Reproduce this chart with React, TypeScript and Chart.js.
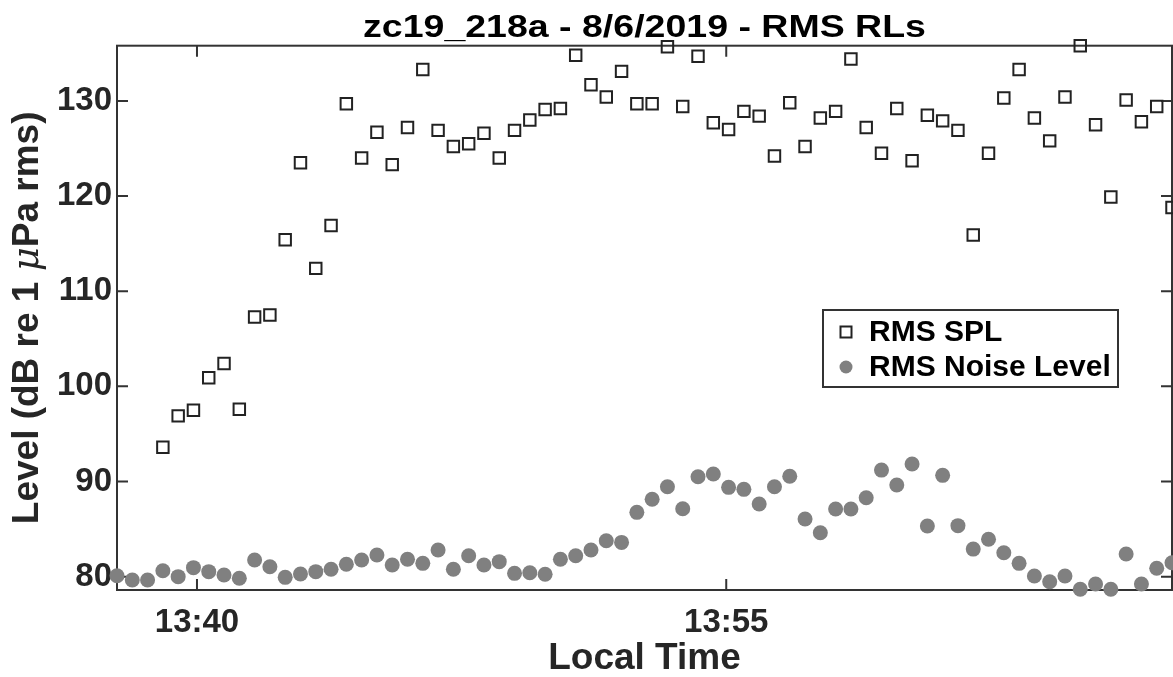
import React, { useEffect, useRef } from "react";
import { Chart, registerables } from "chart.js";

Chart.register(...registerables);

// Sample times (local clock, hh:mm:ss)
const times = [
  "13:37:44", "13:38:10", "13:38:36", "13:39:02", "13:39:28", "13:39:54", "13:40:20", "13:40:46",
  "13:41:12", "13:41:38", "13:42:04", "13:42:30", "13:42:56", "13:43:22", "13:43:48", "13:44:14",
  "13:44:40", "13:45:06", "13:45:32", "13:45:58", "13:46:24", "13:46:50", "13:47:16", "13:47:42",
  "13:48:08", "13:48:34", "13:49:00", "13:49:26", "13:49:52", "13:50:18", "13:50:44", "13:51:10",
  "13:51:36", "13:52:02", "13:52:28", "13:52:54", "13:53:20", "13:53:46", "13:54:12", "13:54:38",
  "13:55:04", "13:55:30", "13:55:56", "13:56:22", "13:56:48", "13:57:14", "13:57:40", "13:58:06",
  "13:58:32", "13:58:58", "13:59:24", "13:59:50", "14:00:16", "14:00:42", "14:01:08", "14:01:34",
  "14:02:00", "14:02:26", "14:02:52", "14:03:18", "14:03:44", "14:04:10", "14:04:36", "14:05:02",
  "14:05:28", "14:05:54", "14:06:20", "14:06:46", "14:07:12", "14:07:38",
];

// RMS sound pressure level (dB re 1 µPa rms); null where no detection
const splLevels: (number | null)[] = [
  null, null, null, 93.6, 96.9, 97.5, 100.9, 102.4,
  97.6, 107.3, 107.5, 115.4, 123.5, 112.4, 116.9, 129.7,
  124.0, 126.7, 123.3, 127.2, 133.3, 126.9, 125.2, 125.5,
  126.6, 124.0, 126.9, 128.0, 129.1, 129.2, 134.8, 131.7,
  130.4, 133.1, 129.7, 129.7, 135.7, 129.4, 134.7, 127.7,
  127.0, 128.9, 128.4, 124.2, 129.8, 125.2, 128.2, 128.9,
  134.4, 127.2, 124.5, 129.2, 123.7, 128.5, 127.9, 126.9,
  115.9, 124.5, 130.3, 133.3, 128.2, 125.8, 130.4, 135.8,
  127.5, 119.9, 130.1, 127.8, 129.4, 118.8,
];

// RMS noise level (dB re 1 µPa rms)
const noiseLevels = [
  80.1, 79.65, 79.65, 80.63, 80.0, 80.95, 80.53, 80.18,
  79.83, 81.75, 81.05, 79.93, 80.28, 80.53, 80.78, 81.3,
  81.75, 82.28, 81.23, 81.83, 81.4, 82.8, 80.78, 82.2,
  81.23, 81.58, 80.35, 80.42, 80.25, 81.83, 82.2, 82.8,
  83.78, 83.6, 86.76, 88.13, 89.45, 87.14, 90.5, 90.79,
  89.39, 89.18, 87.64, 89.45, 90.55, 86.06, 84.62, 87.11,
  87.11, 88.3, 91.2, 89.63, 91.84, 85.33, 90.65, 85.36,
  82.9, 83.93, 82.52, 81.4, 80.07, 79.47, 80.07, 78.68,
  79.23, 78.68, 82.38, 79.23, 80.88, 81.47,
];

const yTickValues = [80, 90, 100, 110, 120, 130];
const xTickLabels = ["13:40", "13:55"];
const yRange = [78.6, 135.8];

const TITLE = "zc19_218a - 8/6/2019 - RMS RLs";
const X_LABEL = "Local Time";
const Y_LABEL_PARTS = ["Level (dB re 1 ", "\u03bc", "Pa rms)"];
const SERIES_NAMES = ["RMS SPL", "RMS Noise Level"];

const FONT = "'Liberation Sans', Arial, Helvetica, sans-serif";
const AXIS_COLOR = "#333333";
const TEXT_COLOR = "#262626";
const SPL_COLOR = "#222222";
const NOISE_COLOR = "#808080";

const toSeconds = (t: string) => {
  const [h, m, s = "0"] = t.split(":");
  return Number(h) * 3600 + Number(m) * 60 + Number(s);
};
const formatClock = (sec: number) => {
  const h = Math.floor(sec / 3600);
  const m = Math.floor((sec % 3600) / 60);
  return `${h}:${String(m).padStart(2, "0")}`;
};

const TICK_LEN = 11;

// Box around the axes with inward ticks on all four sides
const framePlugin = {
  id: "frame",
  beforeDatasetsDraw(chart: any) {
    const { ctx, chartArea: a, scales } = chart;
    ctx.save();
    ctx.strokeStyle = AXIS_COLOR;
    ctx.lineWidth = 2;
    ctx.strokeRect(a.left, a.top, a.right - a.left, a.bottom - a.top);
    ctx.beginPath();
    for (const t of scales.y.ticks) {
      const py = scales.y.getPixelForValue(t.value);
      ctx.moveTo(a.left, py);
      ctx.lineTo(a.left + TICK_LEN, py);
      ctx.moveTo(a.right, py);
      ctx.lineTo(a.right - TICK_LEN, py);
    }
    for (const t of scales.x.ticks) {
      const px = scales.x.getPixelForValue(t.value);
      ctx.moveTo(px, a.bottom);
      ctx.lineTo(px, a.bottom - TICK_LEN);
      ctx.moveTo(px, a.top);
      ctx.lineTo(px, a.top + TICK_LEN);
    }
    ctx.stroke();
    ctx.restore();
  },
};

// Title, y-axis label (with italic mu) and the in-plot legend
const textPlugin = {
  id: "annotations",
  afterDraw(chart: any) {
    const { ctx, chartArea: a } = chart;
    ctx.save();

    // title (slightly condensed vertically)
    ctx.fillStyle = "#000000";
    ctx.font = `bold 37.5px ${FONT}`;
    ctx.textAlign = "center";
    ctx.textBaseline = "alphabetic";
    ctx.translate((a.left + a.right) / 2, 36.5);
    ctx.scale(1, 0.85);
    ctx.fillText(TITLE, 0, 0);
    ctx.restore();

    // y-axis label
    ctx.save();
    const fonts = [`bold 37px ${FONT}`, `italic 37px 'DejaVu Serif', serif`, `bold 37px ${FONT}`];
    const widths = Y_LABEL_PARTS.map((p, i) => {
      ctx.font = fonts[i];
      return ctx.measureText(p).width;
    });
    const total = widths.reduce((s, w) => s + w, 0);
    ctx.translate(28, (a.top + a.bottom) / 2);
    ctx.rotate(-Math.PI / 2);
    ctx.textAlign = "left";
    ctx.textBaseline = "middle";
    ctx.fillStyle = TEXT_COLOR;
    let x = -total / 2;
    Y_LABEL_PARTS.forEach((p, i) => {
      ctx.font = fonts[i];
      ctx.fillText(p, x, 0);
      x += widths[i];
    });
    ctx.restore();

    // legend
    ctx.save();
    const bx = 823, by = 310, bw = 295, bh = 77;
    ctx.fillStyle = "#ffffff";
    ctx.fillRect(bx, by, bw, bh);
    ctx.strokeStyle = AXIS_COLOR;
    ctx.lineWidth = 2;
    ctx.strokeRect(bx, by, bw, bh);
    const rows = [332, 367];
    const mx = 846;
    ctx.strokeStyle = SPL_COLOR;
    ctx.lineWidth = 2;
    ctx.strokeRect(mx - 5.5, rows[0] - 5.5, 11, 11);
    ctx.fillStyle = NOISE_COLOR;
    ctx.beginPath();
    ctx.arc(mx, rows[1], 6.5, 0, Math.PI * 2);
    ctx.fill();
    ctx.fillStyle = "#000000";
    ctx.font = `bold 30px ${FONT}`;
    ctx.textAlign = "left";
    ctx.textBaseline = "middle";
    SERIES_NAMES.forEach((name, i) => ctx.fillText(name, 869, rows[i] + 1));
    ctx.restore();
  },
};

export default function App() {
  const canvasRef = useRef<HTMLCanvasElement | null>(null);

  useEffect(() => {
    if (!canvasRef.current) return;
    const xs = times.map(toSeconds);
    const splData = xs
      .map((x, i) => ({ x, y: splLevels[i] }))
      .filter((p) => p.y !== null) as { x: number; y: number }[];
    const noiseData = xs.map((x, i) => ({ x, y: noiseLevels[i] }));
    const tickFont = { family: FONT, size: 33, weight: "bold" as const, lineHeight: 1 };

    const chart = new Chart(canvasRef.current, {
      type: "scatter",
      data: {
        datasets: [
          {
            label: SERIES_NAMES[0],
            data: splData,
            pointStyle: "rect",
            pointRadius: 8.1,
            pointHoverRadius: 8.1,
            pointBorderWidth: 2,
            borderColor: SPL_COLOR,
            backgroundColor: "rgba(0,0,0,0)",
            clip: false,
          },
          {
            label: SERIES_NAMES[1],
            data: noiseData,
            pointStyle: "circle",
            pointRadius: 7.5,
            pointHoverRadius: 7.5,
            pointBorderWidth: 0,
            borderColor: NOISE_COLOR,
            backgroundColor: NOISE_COLOR,
            clip: false,
          },
        ],
      },
      options: {
        animation: false,
        responsive: false,
        events: [],
        layout: { autoPadding: false, padding: { left: 0, right: 1, top: 45.7, bottom: 0 } },
        plugins: {
          legend: { display: false },
          title: { display: false },
          tooltip: { enabled: false },
        },
        scales: {
          x: {
            type: "linear",
            min: xs[0],
            max: xs[xs.length - 1],
            afterBuildTicks: (s: any) => {
              s.ticks = xTickLabels.map((t) => ({ value: toSeconds(t) }));
            },
            afterFit: (s: any) => {
              s.height = 87;
            },
            grid: { display: false, drawTicks: false },
            border: { display: false },
            ticks: {
              padding: 16.5,
              color: TEXT_COLOR,
              font: tickFont,
              maxRotation: 0,
              autoSkip: false,
              callback: (v: any) => formatClock(Number(v)),
            },
            title: {
              display: true,
              text: X_LABEL,
              color: TEXT_COLOR,
              font: { family: FONT, size: 37, weight: "bold", lineHeight: 1 },
              padding: { top: 0, bottom: 0 },
            },
          },
          y: {
            type: "linear",
            min: yRange[0],
            max: yRange[1],
            afterBuildTicks: (s: any) => {
              s.ticks = yTickValues.map((v) => ({ value: v }));
            },
            afterFit: (s: any) => {
              s.width = 117;
            },
            grid: { display: false, drawTicks: false },
            border: { display: false },
            ticks: {
              padding: 5,
              color: TEXT_COLOR,
              font: tickFont,
              autoSkip: false,
              callback: (v: any) => String(v),
            },
          },
        },
      },
      plugins: [framePlugin, textPlugin],
    });
    return () => chart.destroy();
  }, []);

  return (
    <div style={{ position: "absolute", left: 0, top: 0, width: 1173, height: 677, background: "#ffffff" }}>
      <canvas ref={canvasRef} width={1173} height={677} style={{ display: "block" }} />
    </div>
  );
}
